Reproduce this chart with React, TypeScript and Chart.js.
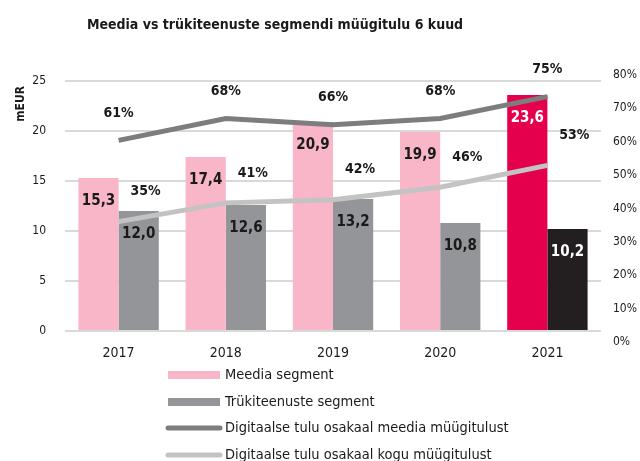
import { useEffect, useRef } from "react";
import { Chart, registerables } from "chart.js";

Chart.register(...registerables);

const title = "Meedia vs trükiteenuste segmendi müügitulu 6 kuud";
const categories = ["2017", "2018", "2019", "2020", "2021"];
const mediaSegment = [15.3, 17.4, 20.9, 19.9, 23.6];
const printSegment = [12.0, 12.6, 13.2, 10.8, 10.2];
const digitalShareMedia = [61, 68, 66, 68, 75];
const digitalShareTotal = [35, 41, 42, 46, 53];
const rightTicks = [0, 10, 20, 30, 40, 50, 60, 70, 80];
const seriesNames = [
  "Meedia segment",
  "Trükiteenuste segment",
  "Digitaalse tulu osakaal meedia müügitulust",
  "Digitaalse tulu osakaal kogu müügitulust",
];
const leftAxisTitle = "mEUR";

const FONT = "'DejaVu Sans Condensed', 'DejaVu Sans', sans-serif";
const PINK = "#F9B6C9";
const CRIMSON = "#E5004E";
const GRAY = "#939598";
const BLACK = "#231F20";
const LINE_DARK = "#7D7D7F";
const LINE_LIGHT = "#C3C3C3";

const fmt = (v: number) => v.toFixed(1).replace(".", ",");

const overlayPlugin = {
  id: "overlay",
  afterDatasetsDraw(chart: any) {
    const ctx = chart.ctx;
    ctx.save();
    // bar labels
    [0, 1].forEach((di) => {
      const meta = chart.getDatasetMeta(di);
      const data = chart.data.datasets[di].data as number[];
      meta.data.forEach((el: any, i: number) => {
        ctx.font = `bold 15px ${FONT}`;
        ctx.textAlign = "center";
        ctx.textBaseline = "middle";
        ctx.fillStyle = i === data.length - 1 ? "#FFFFFF" : "#1A1A1A";
        ctx.fillText(fmt(data[i]), el.x, el.y + 23);
      });
    });
    // line labels
    const offsets = [
      { di: 2, dx: 0, dy: 27 },
      { di: 3, dx: 27, dy: 30 },
    ];
    offsets.forEach(({ di, dx, dy }) => {
      const meta = chart.getDatasetMeta(di);
      const data = chart.data.datasets[di].data as number[];
      meta.data.forEach((el: any, i: number) => {
        ctx.font = `bold 14px ${FONT}`;
        ctx.textAlign = "center";
        ctx.textBaseline = "middle";
        ctx.fillStyle = "#1A1A1A";
        ctx.fillText(`${data[i]}%`, el.x + dx, el.y - dy);
      });
    });
    ctx.restore();
  },
  afterDraw(chart: any) {
    const ctx = chart.ctx;
    ctx.save();
    // title
    ctx.font = `bold 14px ${FONT}`;
    ctx.textAlign = "center";
    ctx.textBaseline = "middle";
    ctx.fillStyle = "#1A1A1A";
    ctx.fillText(title, 275, 25);
    // left axis title
    ctx.save();
    ctx.translate(21, 86);
    ctx.rotate(-Math.PI / 2);
    ctx.font = `bold 12px ${FONT}`;
    ctx.textAlign = "right";
    ctx.textBaseline = "middle";
    ctx.fillText(leftAxisTitle, 0, 0);
    ctx.restore();
    // legend
    const x0 = 168;
    const x1 = 220;
    const rowY = [375, 402, 428, 455];
    chart.data.datasets.forEach((ds: any, i: number) => {
      const y = rowY[i];
      if (ds.type === "line") {
        ctx.strokeStyle = ds.borderColor;
        ctx.lineWidth = 5;
        ctx.lineCap = "round";
        ctx.beginPath();
        ctx.moveTo(x0, y);
        ctx.lineTo(x1, y);
        ctx.stroke();
      } else {
        ctx.fillStyle = ds.legendColor;
        ctx.fillRect(x0, y - 4, x1 - x0, 8);
      }
      ctx.font = `14.5px ${FONT}`;
      ctx.textAlign = "left";
      ctx.textBaseline = "middle";
      ctx.fillStyle = "#1A1A1A";
      ctx.fillText(ds.label, 225, y);
    });
    ctx.restore();
  },
};

export default function App() {
  const ref = useRef<HTMLCanvasElement>(null);
  useEffect(() => {
    if (!ref.current) return;
    const last = categories.length - 1;
    const chart = new Chart(ref.current, {
      type: "bar",
      data: {
        labels: categories,
        datasets: [
          {
            type: "bar",
            label: seriesNames[0],
            data: mediaSegment,
            backgroundColor: mediaSegment.map((_, i) => (i === last ? CRIMSON : PINK)),
            legendColor: PINK,
            yAxisID: "y",
            order: 2,
            categoryPercentage: 0.75,
            barPercentage: 1,
          } as any,
          {
            type: "bar",
            label: seriesNames[1],
            data: printSegment,
            backgroundColor: printSegment.map((_, i) => (i === last ? BLACK : GRAY)),
            legendColor: GRAY,
            yAxisID: "y",
            order: 2,
            categoryPercentage: 0.75,
            barPercentage: 1,
          } as any,
          {
            type: "line",
            label: seriesNames[2],
            data: digitalShareMedia,
            borderColor: LINE_DARK,
            borderWidth: 5,
            pointRadius: 0,
            tension: 0,
            yAxisID: "y2",
            order: 1,
          } as any,
          {
            type: "line",
            label: seriesNames[3],
            data: digitalShareTotal,
            borderColor: LINE_LIGHT,
            borderWidth: 5,
            pointRadius: 0,
            tension: 0,
            yAxisID: "y2",
            order: 1,
          } as any,
        ],
      },
      options: {
        animation: false,
        responsive: false,
        maintainAspectRatio: false,
        layout: { padding: { top: 81, bottom: 100, left: 0, right: 0 } },
        plugins: {
          legend: { display: false },
          title: { display: false },
          tooltip: { enabled: false },
        },
        scales: {
          x: {
            grid: { display: false },
            border: { display: false },
            ticks: { color: "#1A1A1A", font: { family: FONT, size: 14 }, padding: 6 },
            afterFit: (s: any) => {
              s.height = 30;
            },
          },
          y: {
            position: "left",
            min: 0,
            max: 25,
            ticks: { stepSize: 5, color: "#1A1A1A", font: { family: FONT, size: 12 }, padding: 19 },
            grid: { color: "#D9D9D9", lineWidth: 2, drawTicks: false },
            border: { display: false },
            afterFit: (s: any) => {
              s.width = 65;
            },
          },
          y2: {
            position: "right",
            display: false,
            min: 0,
            max: 80,
          },
          y3: {
            position: "right",
            min: 3.3,
            max: 78.2,
            afterBuildTicks: (s: any) => {
              s.ticks = rightTicks.map((v) => ({ value: v }));
            },
            ticks: {
              color: "#1A1A1A",
              font: { family: FONT, size: 12 },
              padding: 12,
              callback: (v: any) => `${v}%`,
            },
            grid: { display: false, drawTicks: false },
            border: { display: false },
            afterFit: (s: any) => {
              s.width = 39;
            },
          },
        },
      } as any,
      plugins: [overlayPlugin],
    });
    return () => chart.destroy();
  }, []);
  return (
    <div style={{ position: "absolute", left: 0, top: 0, width: 640, height: 461, background: "#fff" }}>
      <canvas ref={ref} width={640} height={461} style={{ display: "block" }} />
    </div>
  );
}
